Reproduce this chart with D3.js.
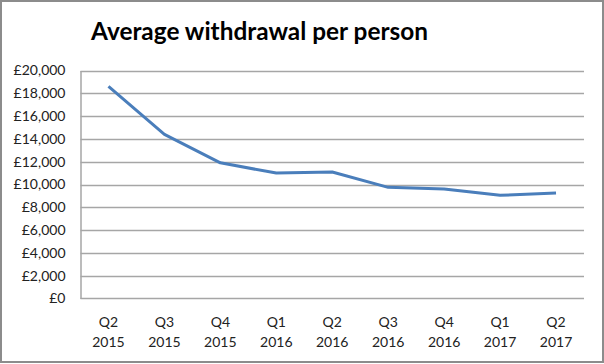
<!DOCTYPE html>
<html><head><meta charset="utf-8">
<script src="https://cdn.jsdelivr.net/npm/d3@7"></script>
<style>html,body{margin:0;padding:0;background:#fff;}svg{display:block;}</style>
</head><body>
<script>
const categories = ["Q2|2015","Q3|2015","Q4|2015","Q1|2016","Q2|2016","Q3|2016","Q4|2016","Q1|2017","Q2|2017"];
const values = [18600, 14400, 11900, 11000, 11100, 9750, 9600, 9050, 9250];
const yTicks = [0,2000,4000,6000,8000,10000,12000,14000,16000,18000,20000];
const title = "Average withdrawal per person";

(function(){
const W = 604, H = 364;
const FONT = "Lato, 'Open Sans', sans-serif";
const svg = d3.select("body").append("svg").attr("width", W).attr("height", H);
svg.append("rect").attr("x",1).attr("y",1).attr("width",W-2).attr("height",H-3)
  .attr("fill","#fff").attr("stroke","#8c8c8c").attr("stroke-width",2);

const pL = 80.5, pR = 584, pT = 70.5, pB = 298.5;
const x = d3.scaleBand().domain(categories).range([pL, pR]);
const y = d3.scaleLinear().domain([0, 20000]).range([pB, pT]);

// gridlines
svg.append("g").selectAll("line").data(yTicks.filter(d=>d>0)).join("line")
  .attr("x1", pL).attr("x2", pR).attr("y1", d=>Math.round(y(d))+0.5).attr("y2", d=>Math.round(y(d))+0.5)
  .attr("stroke","#a6a6a6").attr("stroke-width",1.5);

// y axis
const fmt = d => "£" + d3.format(",")(d);
const yAxis = svg.append("g").attr("transform",`translate(${pL},0)`)
  .call(d3.axisLeft(y).tickValues(yTicks).tickFormat(fmt).tickSize(0).tickPadding(15));
yAxis.select(".domain").attr("stroke","#a6a6a6").attr("stroke-width",1.5);
yAxis.selectAll("text").attr("font-family",FONT).attr("font-size",14).attr("fill","#222");

// x axis baseline
svg.append("line").attr("x1",pL).attr("x2",pR).attr("y1",pB).attr("y2",pB)
  .attr("stroke","#a6a6a6").attr("stroke-width",1.5);

const xl = svg.append("g");
categories.forEach(c => {
  const [q, yr] = c.split("|");
  const cx = x(c) + x.bandwidth()/2;
  const t = xl.append("text").attr("text-anchor","middle")
    .attr("font-family",FONT).attr("font-size",14).attr("fill","#222");
  t.append("tspan").attr("x",cx).attr("y",326.5).text(q);
  t.append("tspan").attr("x",cx).attr("y",346.5).text(yr);
});

// line
const line = d3.line().x((d,i)=>x(categories[i])+x.bandwidth()/2).y(d=>y(d));
svg.append("path").datum(values).attr("d", line).attr("fill","none")
  .attr("stroke","#4a7ebb").attr("stroke-width",3).attr("stroke-linejoin","round");

// title
svg.append("text").attr("x",91).attr("y",40).attr("font-family",FONT)
  .attr("font-weight","bold").attr("font-size",24).attr("fill","#000")
  .attr("textLength",337).attr("lengthAdjust","spacingAndGlyphs").text(title);
})();
</script>
</body></html>
